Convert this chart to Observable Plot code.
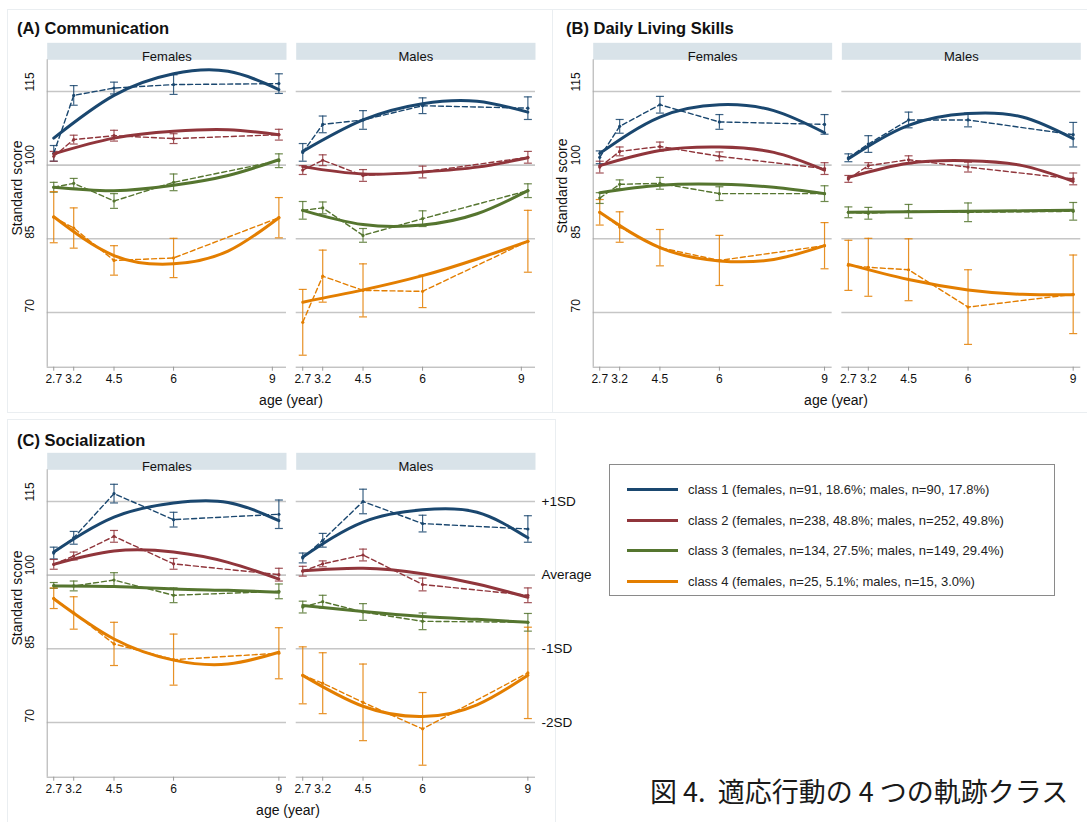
<!DOCTYPE html>
<html>
<head>
<meta charset="utf-8">
<script src="https://cdn.jsdelivr.net/npm/d3@7"></script>
<script src="https://cdn.jsdelivr.net/npm/@observablehq/plot@0.6"></script>
<style>
  body { margin:0; background:#fff; }
  #page { position:relative; width:1087px; height:822px; overflow:hidden; background:#fff;
          font-family:"Liberation Sans", Arial, sans-serif; color:#111; }
  .abs { position:absolute; }
  .title { font-weight:bold; font-size:16.5px; line-height:1; transform:translateY(-50%); white-space:nowrap; }
  .ylab { font-size:14px; line-height:1; white-space:nowrap; transform:translate(-50%,-50%) rotate(-90deg); }
  .xlab { font-size:14px; line-height:1; white-space:nowrap; transform:translate(-50%,-50%); }
  .box { border:1px solid #eaeef1; box-sizing:border-box; }
</style>
</head>
<body>
<div id="page">
  <div class="abs box" style="left:7px;top:9px;width:546px;height:404px"></div>
  <div class="abs box" style="left:552px;top:9px;width:540px;height:404px"></div>
  <div class="abs box" style="left:7px;top:419px;width:549px;height:410px"></div>
  <div id="pA" class="abs" style="left:0;top:0"></div>
  <div id="pB" class="abs" style="left:545px;top:0"></div>
  <div id="pC" class="abs" style="left:0;top:410px"></div>
  <div class="abs title" style="left:17px;top:28px">(A) Communication</div>
  <div class="abs title" style="left:566px;top:28px">(B) Daily Living Skills</div>
  <div class="abs title" style="left:17px;top:440px">(C) Socialization</div>
  <div class="abs ylab" style="left:17px;top:188px">Standard score</div>
  <div class="abs ylab" style="left:562px;top:186px">Standard score</div>
  <div class="abs ylab" style="left:17px;top:598px">Standard score</div>
  <div class="abs xlab" style="left:291px;top:400px">age (year)</div>
  <div class="abs xlab" style="left:836px;top:400px">age (year)</div>
  <div class="abs xlab" style="left:288px;top:810px">age (year)</div>
  <div id="legend" class="abs" style="left:609px;top:464px;width:446px;height:132px;border:1px solid #8a8a8a;box-sizing:border-box"></div>
  <div class="abs" style="left:650px;top:790px;transform:translateY(-50%);font-family:'Noto Sans CJK JP',sans-serif;font-size:27px;line-height:1;white-space:pre;color:#1a1a1a">図 4.  適応行動の 4 つの軌跡クラス</div>
</div>
<script>
// ---------- shared ----------
const ages = [2.7, 3.25, 4.36, 6.0, 8.9];          // observed assessment ages
const fitAges = [2.7, 4.36, 6.0, 7.5, 8.9];        // ages where fitted curves were read
const tickLabels = ["2.7", "3.2", "4.5", "6", "9"];
const tickPosA = [2.7, 3.25, 4.36, 6.0, 8.72];
const tickPosB = [2.7, 3.25, 4.36, 6.0, 8.9];
const tickPosC = [2.7, 3.25, 4.36, 6.0, 8.9];
const yTicks = [70, 85, 100, 115];
const sdLabels = ["-2SD", "-1SD", "Average", "+1SD"];
const sexes = ["Females", "Males"];
const classNames = ["class 1", "class 2", "class 3", "class 4"];
const classColors = ["#1a476f", "#90353b", "#55752f", "#e37e00"];
const legendLabels = [
  "class 1 (females, n=91, 18.6%; males, n=90, 17.8%)",
  "class 2 (females, n=238, 48.8%; males, n=252, 49.8%)",
  "class 3 (females, n=134, 27.5%; males, n=149, 29.4%)",
  "class 4 (females, n=25, 5.1%; males, n=15, 3.0%)"
];

// ---------- (A) Communication ----------
const commObsF = [[102.4,114.2,115.7,116.4,116.6],[101.8,105.2,106.0,105.4,106.2],[95.5,96.3,92.7,96.5,100.9],[89.4,87.2,80.6,81.1,89.3]];
const commCiF  = [[1.6,2.0,1.2,2.0,2.0],[1.0,0.9,1.1,1.0,1.1],[1.0,1.0,1.5,1.7,1.4],[5.2,4.1,3.0,4.0,4.1]];
const commFitF = [[105.5,114.2,118.6,119.1,115.4],[102.3,105.5,106.9,107.2,106.2],[95.5,94.8,95.9,97.9,101.1],[89.5,81.6,79.9,82.5,89.3]];
const commObsM = [[102.6,108.3,109.2,112.1,111.6],[99.0,101.0,97.9,98.6,101.6],[90.8,91.3,85.7,89.1,94.8],[68.0,77.4,74.5,74.3,84.5]];
const commCiM  = [[1.8,1.7,1.9,1.6,2.3],[0.9,1.1,1.2,1.2,1.2],[1.8,1.2,1.4,1.6,1.4],[6.7,5.3,5.4,3.3,6.3]];
const commFitM = [[102.8,109.2,112.5,113.0,110.8],[99.7,98.2,98.6,99.6,101.5],[90.8,87.9,87.8,90.1,94.8],[72.1,74.6,77.5,80.9,84.5]];

// ---------- (B) Daily Living Skills ----------
const dlsObsF = [[101.6,107.9,112.3,108.8,108.3],[99.6,102.8,103.8,101.8,99.3],[93.3,96.1,96.3,94.2,94.2],[90.4,87.4,83.2,80.6,83.6]];
const dlsCiF  = [[1.3,1.4,1.7,1.5,2.0],[1.2,0.9,0.9,0.9,1.2],[1.1,0.9,1.2,1.4,1.6],[2.6,3.1,3.7,5.1,4.7]];
const dlsFitF = [[102.4,109.8,112.3,111.1,106.6],[99.9,103.0,103.7,102.6,99.0],[94.4,95.9,96.1,95.5,94.2],[90.4,83.2,80.5,80.8,83.6]];
const dlsObsM = [[101.5,104.3,109.2,109.2,106.2],[97.2,99.9,101.1,99.6,97.2],[90.4,90.2,90.6,90.4,90.6],[79.6,79.2,78.7,71.1,73.7]];
const dlsCiM  = [[0.8,1.7,1.6,1.4,2.5],[0.7,0.6,0.8,1.0,1.2],[1.1,1.2,1.4,1.9,1.8],[5.1,5.9,6.3,7.6,8.0]];
const dlsFitM = [[101.3,108.1,110.5,109.8,105.4],[97.5,100.4,100.9,99.9,96.7],[90.4,90.5,90.6,90.7,90.8],[79.8,76.7,74.6,73.7,73.6]];

// ---------- (C) Socialization ----------
const socObsF = [[104.5,107.6,116.6,111.3,112.4],[102.2,103.9,107.9,102.3,100.1],[97.9,97.8,99.0,95.9,96.7],[95.3,92.3,86.0,82.8,84.1]];
const socCiF  = [[1.2,1.3,1.9,1.5,2.9],[1.0,0.8,1.2,1.1,1.3],[0.6,1.0,1.5,1.5,1.5],[2.1,3.3,4.4,5.2,5.2]];
const socFitF = [[104.7,111.8,114.7,114.8,111.1],[102.2,104.9,104.7,102.6,99.2],[97.8,97.7,97.2,96.9,96.5],[95.2,87.0,82.7,81.9,84.3]];
const socObsM = [[103.5,107.1,115.0,110.5,109.4],[100.8,102.3,104.1,98.1,95.9],[93.5,94.6,92.5,90.6,90.4],[79.6,78.0,74.1,68.7,80.1]];
const socCiM  = [[1.0,1.4,2.5,1.7,2.7],[1.0,0.6,1.2,1.3,1.5],[1.2,1.3,1.7,1.7,1.8],[5.8,6.2,7.8,7.4,9.3]];
const socFitM = [[103.7,110.8,113.3,112.8,107.6],[100.9,101.4,100.3,98.2,95.5],[93.8,92.6,91.6,91.0,90.4],[79.6,73.3,71.2,73.6,79.6]];

// ---------- drawing ----------
const X_DOMAIN = [2.52, 9.11];
const Y_DOMAIN = [58.86, 121.45];
const H = 410, MT = 59.3, MB = 43.3, STRIP = 17;

const hline = { draw(ctx, size) { const r = Math.sqrt(size / Math.PI); ctx.moveTo(-r, 0); ctx.lineTo(r, 0); } };

function drawPanel({obsF, ciF, fitF, obsM, ciM, fitM, ticks, width, marginLeft, marginRight, withSD}) {
  const obsRows = [], fitRows = [];
  [[sexes[0], obsF, ciF, fitF], [sexes[1], obsM, ciM, fitM]].forEach(([sex, obs, ci, fit]) => {
    obs.forEach((s, k) => s.forEach((v, i) => obsRows.push({sex, cls: classNames[k], age: ages[i], v, lo: v - ci[k][i], hi: v + ci[k][i]})));
    fit.forEach((s, k) => s.forEach((v, i) => fitRows.push({sex, cls: classNames[k], age: fitAges[i], v})));
  });
  const labelOf = new Map(ticks.map((t, i) => [t, tickLabels[i]]));
  const plotH = H - MT - MB;
  const marks = [
    Plot.frame({fill: "#d9e3e9", stroke: null, insetTop: -STRIP, insetBottom: plotH}),
    Plot.text(sexes, {fx: d => d, text: d => d, frameAnchor: "top", dy: -STRIP / 2, fontSize: 13, fill: "#111"}),
    Plot.ruleY(yTicks, {stroke: "#c6c6c6", strokeWidth: 1.6}),
    Plot.ruleY([Y_DOMAIN[0]], {stroke: "#a8a8a8", strokeWidth: 1}),
    Plot.ruleX([sexes[0]], {fx: d => d, x: () => X_DOMAIN[0], stroke: "#a8a8a8", strokeWidth: 1}),
    Plot.axisX({ticks, tickFormat: d => labelOf.get(d), tickSize: 4, tickPadding: 3, stroke: "#999", fill: "#111", fontSize: 12, label: null}),
    Plot.text(yTicks, {fx: () => sexes[0], y: d => d, text: d => String(d), frameAnchor: "left", dx: -16.7, rotate: -90, fontSize: 12, fill: "#111"}),
    Plot.ruleX(obsRows, {fx: "sex", x: "age", y1: "lo", y2: "hi", stroke: "cls", strokeWidth: 1.2, strokeOpacity: 0.85}),
    Plot.dot(obsRows, {fx: "sex", x: "age", y: "lo", symbol: hline, r: 4, stroke: "cls", fill: "none", strokeWidth: 1.2, strokeOpacity: 0.85}),
    Plot.dot(obsRows, {fx: "sex", x: "age", y: "hi", symbol: hline, r: 4, stroke: "cls", fill: "none", strokeWidth: 1.2, strokeOpacity: 0.85}),
    Plot.line(obsRows, {fx: "sex", x: "age", y: "v", z: "cls", stroke: "cls", strokeWidth: 1.4, strokeDasharray: "5,3"}),
    Plot.dot(obsRows, {fx: "sex", x: "age", y: "v", r: 1.6, fill: "cls", stroke: null}),
    Plot.line(fitRows, {fx: "sex", x: "age", y: "v", z: "cls", stroke: "cls", strokeWidth: 3, curve: "natural"})
  ];
  if (withSD) {
    marks.push(Plot.text(yTicks, {fx: () => sexes[1], y: d => d, text: (d, i) => sdLabels[i], frameAnchor: "right", dx: 6, textAnchor: "start", fontSize: 13.5, fill: "#111"}));
  }
  return Plot.plot({
    width, height: H,
    marginTop: MT, marginBottom: MB, marginLeft, marginRight,
    style: {fontFamily: "'Liberation Sans', Arial, sans-serif", fontSize: "12px", color: "#111", background: "transparent", overflow: "visible"},
    fx: {domain: sexes, paddingInner: 0.039, paddingOuter: 0, round: false, axis: null, label: null},
    x: {domain: X_DOMAIN, axis: null},
    y: {domain: Y_DOMAIN, axis: null},
    color: {type: "ordinal", domain: classNames, range: classColors},
    marks
  });
}

document.getElementById("pA").appendChild(drawPanel({obsF: commObsF, ciF: commCiF, fitF: commFitF, obsM: commObsM, ciM: commCiM, fitM: commFitM, ticks: tickPosA, width: 545, marginLeft: 46.7, marginRight: 10, withSD: false}));
document.getElementById("pB").appendChild(drawPanel({obsF: dlsObsF, ciF: dlsCiF, fitF: dlsFitF, obsM: dlsObsM, ciM: dlsCiM, fitM: dlsFitM, ticks: tickPosB, width: 542, marginLeft: 47.7, marginRight: 6.7, withSD: false}));
document.getElementById("pC").appendChild(drawPanel({obsF: socObsF, ciF: socCiF, fitF: socFitF, obsM: socObsM, ciM: socCiM, fitM: socFitM, ticks: tickPosC, width: 600, marginLeft: 46.7, marginRight: 65, withSD: true}));

// legend
const legend = document.getElementById("legend");
const rowY = [24, 55, 85, 116];
legendLabels.forEach((lab, k) => {
  const line = document.createElement("div");
  line.className = "abs";
  line.style.cssText = `left:17px;top:${rowY[k] - 1.5}px;width:51px;height:3px;background:${classColors[k]}`;
  legend.appendChild(line);
  const t = document.createElement("div");
  t.className = "abs";
  t.style.cssText = `left:78px;top:${rowY[k]}px;transform:translateY(-50%);font-size:13px;line-height:1;white-space:nowrap;color:#222`;
  t.textContent = lab;
  legend.appendChild(t);
});
</script>
</body>
</html>
